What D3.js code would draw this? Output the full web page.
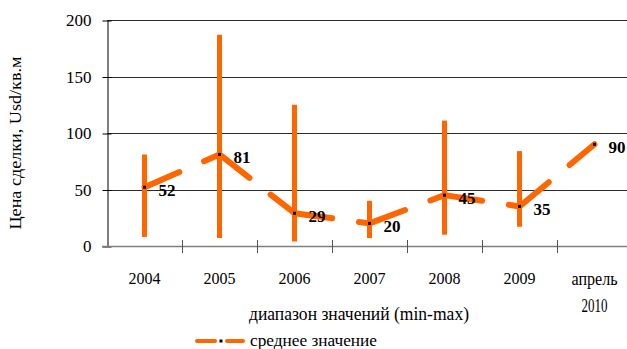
<!DOCTYPE html>
<html><head><meta charset="utf-8">
<script src="https://cdn.jsdelivr.net/npm/d3@7"></script>
<style>
html,body{margin:0;padding:0;background:#fff;overflow:hidden}
svg text{font-family:"Liberation Serif","Times New Roman","DejaVu Serif",serif !important;fill:#000}
</style></head>
<body>
<svg id="chart" width="627" height="349"></svg>
<script>
const categories = ["2004","2005","2006","2007","2008","2009","апрель 2010"];
const rangeMin = [8, 7, 4, 7, 10, 17, null];
const rangeMax = [81, 187, 125, 40, 111, 84, null];
const meanValues = [52, 81, 29, 20, 45, 35, 90];
const yTicks = [0, 50, 100, 150, 200];
const yTitle = "Цена сделки, Usd/кв.м";
const legendRange = "диапазон значений (min-max)";
const legendMean = "среднее значение";

const ORANGE = "#ff6600";
const svg = d3.select("#chart");
const x = d3.scaleBand().domain(categories).range([107, 632]).padding(0);
const y = d3.scaleLinear().domain([0, 200]).range([246, 20]);
const cx = c => x(c) + x.bandwidth() / 2;

// gridlines
svg.append("g").selectAll("line").data(yTicks.filter(v => v > 0)).join("line")
  .attr("x1", 107).attr("x2", 627)
  .attr("y1", d => Math.round(y(d)) + 0.5).attr("y2", d => Math.round(y(d)) + 0.5)
  .attr("stroke", "#2b2b2b").attr("stroke-width", 1);

// y axis
const gy = svg.append("g").attr("transform", "translate(107.5,0.5)")
  .call(d3.axisLeft(y).tickValues(yTicks).tickSizeInner(5).tickSizeOuter(0).tickPadding(11));
gy.attr("font-family", null);
gy.select(".domain").attr("stroke", "#000");
gy.selectAll(".tick line").attr("x1", 4).attr("stroke", "#000");
gy.selectAll(".tick text").style("font-size", "17px").attr("fill", "#000");

// x axis line + boundary ticks
svg.append("line").attr("x1", 102).attr("x2", 627).attr("y1", 246.5).attr("y2", 246.5)
  .attr("stroke", "#7f7f7f").attr("stroke-width", 1.5);
svg.append("g").selectAll("line").data(categories.slice(1)).join("line")
  .attr("x1", d => Math.round(x(d)) + 0.5).attr("x2", d => Math.round(x(d)) + 0.5)
  .attr("y1", 240).attr("y2", 253).attr("stroke", "#555").attr("stroke-width", 1);

// x labels
const gx = svg.append("g").attr("transform", "translate(0,246)")
  .call(d3.axisBottom(x).tickSize(0).tickFormat(""));
gx.attr("font-family", null);
gx.select(".domain").remove();
gx.selectAll(".tick").each(function(d) {
  const parts = d.split(" ");
  const t = d3.select(this).append("text").attr("text-anchor", "middle");
  if (parts.length === 1) {
    t.attr("y", 38).style("font-size", "16px").text(d);
  } else {
    const lens = [46, 26];
    parts.forEach((p, i) => {
      t.append("tspan").attr("x", 0).attr("y", 39 + i * 27)
        .style("font-size", "18px")
        .attr("textLength", lens[i]).attr("lengthAdjust", "spacingAndGlyphs").text(p);
    });
  }
});

// mean line (dashed, each segment restarts the dash pattern)
const pts = categories.map((c, i) => [cx(c), y(meanValues[i])]);
const line = d3.line();
const segs = d3.pairs(pts);
svg.append("g").selectAll("path").data(segs).join("path")
  .attr("d", d => line(d)).attr("fill", "none").attr("stroke", ORANGE)
  .attr("stroke-width", 6).attr("stroke-linecap", "round")
  .attr("stroke-dasharray", "38,27");

// range bars
const barData = categories.map((c, i) => ({c, lo: rangeMin[i], hi: rangeMax[i]})).filter(d => d.lo != null);
svg.append("g").selectAll("line").data(barData).join("line")
  .attr("x1", d => cx(d.c)).attr("x2", d => cx(d.c))
  .attr("y1", d => y(d.lo)).attr("y2", d => y(d.hi))
  .attr("stroke", ORANGE).attr("stroke-width", 5);

// markers
svg.append("g").selectAll("rect").data(pts).join("rect")
  .attr("x", d => d[0] - 1.5).attr("y", d => d[1] - 1.5).attr("width", 3).attr("height", 3)
  .attr("fill", "#000");

// data labels
svg.append("g").selectAll("text").data(pts).join("text")
  .attr("x", d => d[0] + 14).attr("y", d => d[1] + 8.5)
  .style("font-size", "17px").style("font-weight", "bold")
  .text((d, i) => meanValues[i]);

// y title
svg.append("text").attr("transform", "translate(21,143) rotate(-90)")
  .attr("text-anchor", "middle").style("font-size", "17px")
  .attr("textLength", 173).attr("lengthAdjust", "spacingAndGlyphs").text(yTitle);

// legend
svg.append("text").attr("x", 249).attr("y", 320).style("font-size", "18px")
  .attr("textLength", 220).attr("lengthAdjust", "spacingAndGlyphs").text(legendRange);
const lg = svg.append("g");
lg.append("line").attr("x1", 197).attr("x2", 215).attr("y1", 341).attr("y2", 341)
  .attr("stroke", ORANGE).attr("stroke-width", 4).attr("stroke-linecap", "round");
lg.append("line").attr("x1", 227).attr("x2", 243).attr("y1", 341).attr("y2", 341)
  .attr("stroke", ORANGE).attr("stroke-width", 4).attr("stroke-linecap", "round");
lg.append("rect").attr("x", 219.5).attr("y", 339.5).attr("width", 3).attr("height", 3).attr("fill", "#000");
svg.append("text").attr("x", 250).attr("y", 346).style("font-size", "17px")
  .attr("textLength", 127).attr("lengthAdjust", "spacingAndGlyphs").text(legendMean);
</script>
</body></html>
